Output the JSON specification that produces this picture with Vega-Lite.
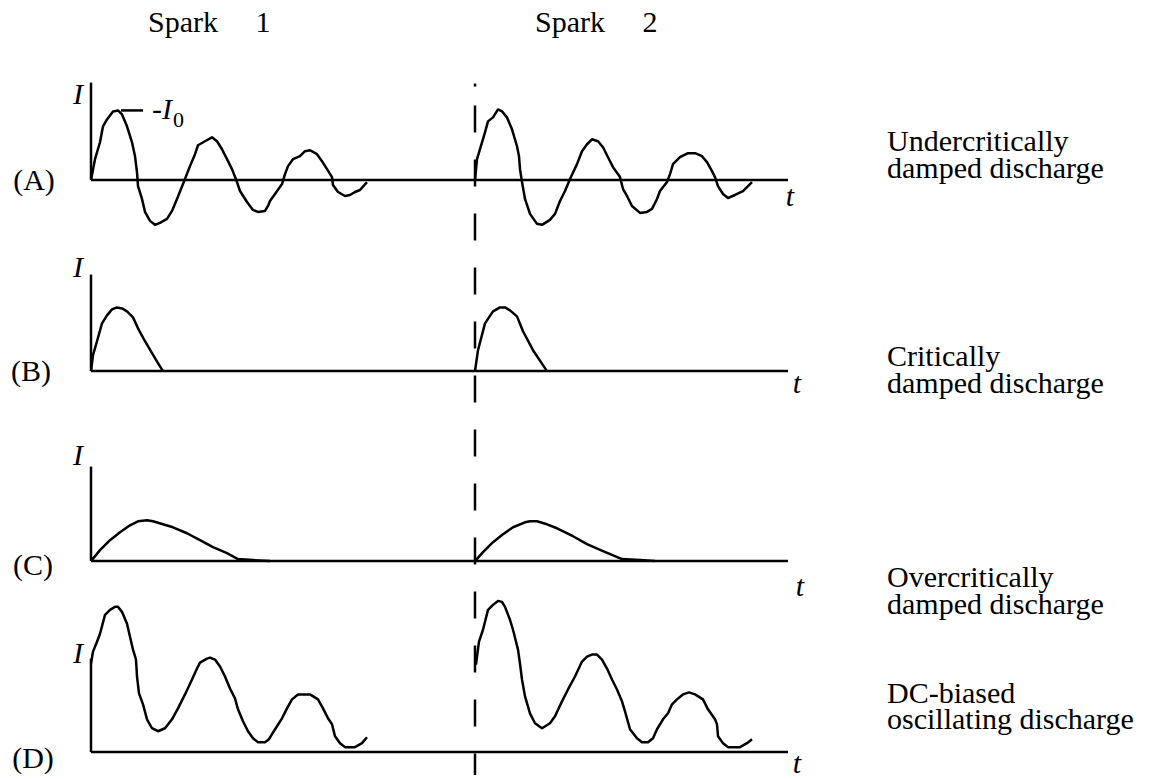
{
  "$schema": "https://vega.github.io/schema/vega-lite/v6.json",
  "width": 1161,
  "height": 779,
  "autosize": {"type": "fit", "contains": "padding"},
  "padding": 0,
  "background": "white",
  "config": {"view": {"stroke": null}},
  "datasets": {
    "rules": [
      {"x": 91, "y": 83, "x2": 91, "y2": 181},
      {"x": 91, "y": 181, "x2": 788, "y2": 181},
      {"x": 91, "y": 276, "x2": 91, "y2": 373},
      {"x": 91, "y": 373, "x2": 788, "y2": 373},
      {"x": 91, "y": 469, "x2": 91, "y2": 564},
      {"x": 91, "y": 564, "x2": 788, "y2": 564},
      {"x": 91, "y": 662, "x2": 91, "y2": 756},
      {"x": 91, "y": 756, "x2": 788, "y2": 756},
      {"x": 121, "y": 111, "x2": 143, "y2": 111},
      {"x": 475, "y": 84, "x2": 475, "y2": 87}
    ],
    "dashed": [
      {"x": 475, "y": 106, "x2": 475, "y2": 779}
    ],
    "curves": [
      {"id": "A1", "i": 0, "x": 91, "y": 181}, {"id": "A1", "i": 1, "x": 95, "y": 160}, {"id": "A1", "i": 2, "x": 100, "y": 143}, {"id": "A1", "i": 3, "x": 103, "y": 127}, {"id": "A1", "i": 4, "x": 107, "y": 120}, {"id": "A1", "i": 5, "x": 113, "y": 112}, {"id": "A1", "i": 6, "x": 118, "y": 111}, {"id": "A1", "i": 7, "x": 122, "y": 115}, {"id": "A1", "i": 8, "x": 127, "y": 127}, {"id": "A1", "i": 9, "x": 132, "y": 143}, {"id": "A1", "i": 10, "x": 135, "y": 157}, {"id": "A1", "i": 11, "x": 137, "y": 173}, {"id": "A1", "i": 12, "x": 138, "y": 187}, {"id": "A1", "i": 13, "x": 142, "y": 200}, {"id": "A1", "i": 14, "x": 145, "y": 213}, {"id": "A1", "i": 15, "x": 150, "y": 222}, {"id": "A1", "i": 16, "x": 155, "y": 226}, {"id": "A1", "i": 17, "x": 160, "y": 224}, {"id": "A1", "i": 18, "x": 167, "y": 220}, {"id": "A1", "i": 19, "x": 172, "y": 212}, {"id": "A1", "i": 20, "x": 177, "y": 200}, {"id": "A1", "i": 21, "x": 183, "y": 185}, {"id": "A1", "i": 22, "x": 190, "y": 167}, {"id": "A1", "i": 23, "x": 195, "y": 155}, {"id": "A1", "i": 24, "x": 198, "y": 146}, {"id": "A1", "i": 25, "x": 205, "y": 142}, {"id": "A1", "i": 26, "x": 212, "y": 138}, {"id": "A1", "i": 27, "x": 217, "y": 142}, {"id": "A1", "i": 28, "x": 222, "y": 150}, {"id": "A1", "i": 29, "x": 227, "y": 160}, {"id": "A1", "i": 30, "x": 232, "y": 170}, {"id": "A1", "i": 31, "x": 237, "y": 183}, {"id": "A1", "i": 32, "x": 240, "y": 192}, {"id": "A1", "i": 33, "x": 247, "y": 203}, {"id": "A1", "i": 34, "x": 253, "y": 211}, {"id": "A1", "i": 35, "x": 258, "y": 213}, {"id": "A1", "i": 36, "x": 265, "y": 212}, {"id": "A1", "i": 37, "x": 268, "y": 207}, {"id": "A1", "i": 38, "x": 270, "y": 202}, {"id": "A1", "i": 39, "x": 275, "y": 195}, {"id": "A1", "i": 40, "x": 282, "y": 185}, {"id": "A1", "i": 41, "x": 285, "y": 175}, {"id": "A1", "i": 42, "x": 288, "y": 167}, {"id": "A1", "i": 43, "x": 293, "y": 160}, {"id": "A1", "i": 44, "x": 300, "y": 157}, {"id": "A1", "i": 45, "x": 305, "y": 152}, {"id": "A1", "i": 46, "x": 310, "y": 151}, {"id": "A1", "i": 47, "x": 317, "y": 155}, {"id": "A1", "i": 48, "x": 322, "y": 162}, {"id": "A1", "i": 49, "x": 327, "y": 170}, {"id": "A1", "i": 50, "x": 332, "y": 178}, {"id": "A1", "i": 51, "x": 333, "y": 186}, {"id": "A1", "i": 52, "x": 338, "y": 193}, {"id": "A1", "i": 53, "x": 345, "y": 197}, {"id": "A1", "i": 54, "x": 350, "y": 196}, {"id": "A1", "i": 55, "x": 355, "y": 193}, {"id": "A1", "i": 56, "x": 360, "y": 191}, {"id": "A1", "i": 57, "x": 367, "y": 183},

      {"id": "A2", "i": 0, "x": 475, "y": 181}, {"id": "A2", "i": 1, "x": 477, "y": 160}, {"id": "A2", "i": 2, "x": 480, "y": 150}, {"id": "A2", "i": 3, "x": 485, "y": 133}, {"id": "A2", "i": 4, "x": 488, "y": 122}, {"id": "A2", "i": 5, "x": 493, "y": 118}, {"id": "A2", "i": 6, "x": 498, "y": 110}, {"id": "A2", "i": 7, "x": 502, "y": 112}, {"id": "A2", "i": 8, "x": 507, "y": 118}, {"id": "A2", "i": 9, "x": 512, "y": 130}, {"id": "A2", "i": 10, "x": 517, "y": 147}, {"id": "A2", "i": 11, "x": 519, "y": 157}, {"id": "A2", "i": 12, "x": 520, "y": 170}, {"id": "A2", "i": 13, "x": 522, "y": 183}, {"id": "A2", "i": 14, "x": 525, "y": 200}, {"id": "A2", "i": 15, "x": 530, "y": 215}, {"id": "A2", "i": 16, "x": 537, "y": 225}, {"id": "A2", "i": 17, "x": 542, "y": 226}, {"id": "A2", "i": 18, "x": 550, "y": 221}, {"id": "A2", "i": 19, "x": 555, "y": 215}, {"id": "A2", "i": 20, "x": 560, "y": 202}, {"id": "A2", "i": 21, "x": 565, "y": 192}, {"id": "A2", "i": 22, "x": 570, "y": 180}, {"id": "A2", "i": 23, "x": 577, "y": 165}, {"id": "A2", "i": 24, "x": 582, "y": 152}, {"id": "A2", "i": 25, "x": 587, "y": 145}, {"id": "A2", "i": 26, "x": 592, "y": 140}, {"id": "A2", "i": 27, "x": 598, "y": 142}, {"id": "A2", "i": 28, "x": 603, "y": 148}, {"id": "A2", "i": 29, "x": 608, "y": 158}, {"id": "A2", "i": 30, "x": 613, "y": 168}, {"id": "A2", "i": 31, "x": 620, "y": 178}, {"id": "A2", "i": 32, "x": 623, "y": 190}, {"id": "A2", "i": 33, "x": 627, "y": 197}, {"id": "A2", "i": 34, "x": 632, "y": 207}, {"id": "A2", "i": 35, "x": 640, "y": 214}, {"id": "A2", "i": 36, "x": 647, "y": 213}, {"id": "A2", "i": 37, "x": 652, "y": 210}, {"id": "A2", "i": 38, "x": 657, "y": 200}, {"id": "A2", "i": 39, "x": 660, "y": 192}, {"id": "A2", "i": 40, "x": 667, "y": 183}, {"id": "A2", "i": 41, "x": 670, "y": 175}, {"id": "A2", "i": 42, "x": 673, "y": 165}, {"id": "A2", "i": 43, "x": 680, "y": 158}, {"id": "A2", "i": 44, "x": 688, "y": 154}, {"id": "A2", "i": 45, "x": 695, "y": 154}, {"id": "A2", "i": 46, "x": 702, "y": 157}, {"id": "A2", "i": 47, "x": 707, "y": 163}, {"id": "A2", "i": 48, "x": 712, "y": 172}, {"id": "A2", "i": 49, "x": 715, "y": 178}, {"id": "A2", "i": 50, "x": 718, "y": 187}, {"id": "A2", "i": 51, "x": 723, "y": 195}, {"id": "A2", "i": 52, "x": 728, "y": 199}, {"id": "A2", "i": 53, "x": 735, "y": 196}, {"id": "A2", "i": 54, "x": 743, "y": 192}, {"id": "A2", "i": 55, "x": 752, "y": 183},

      {"id": "B1", "i": 0, "x": 91, "y": 373}, {"id": "B1", "i": 1, "x": 93, "y": 357}, {"id": "B1", "i": 2, "x": 97, "y": 343}, {"id": "B1", "i": 3, "x": 102, "y": 325}, {"id": "B1", "i": 4, "x": 107, "y": 317}, {"id": "B1", "i": 5, "x": 112, "y": 311}, {"id": "B1", "i": 6, "x": 117, "y": 309}, {"id": "B1", "i": 7, "x": 122, "y": 310}, {"id": "B1", "i": 8, "x": 127, "y": 313}, {"id": "B1", "i": 9, "x": 133, "y": 319}, {"id": "B1", "i": 10, "x": 138, "y": 330}, {"id": "B1", "i": 11, "x": 145, "y": 343}, {"id": "B1", "i": 12, "x": 152, "y": 355}, {"id": "B1", "i": 13, "x": 158, "y": 365}, {"id": "B1", "i": 14, "x": 163, "y": 373},

      {"id": "B2", "i": 0, "x": 475, "y": 373}, {"id": "B2", "i": 1, "x": 478, "y": 352}, {"id": "B2", "i": 2, "x": 485, "y": 325}, {"id": "B2", "i": 3, "x": 493, "y": 313}, {"id": "B2", "i": 4, "x": 500, "y": 309}, {"id": "B2", "i": 5, "x": 505, "y": 309}, {"id": "B2", "i": 6, "x": 510, "y": 312}, {"id": "B2", "i": 7, "x": 517, "y": 318}, {"id": "B2", "i": 8, "x": 523, "y": 333}, {"id": "B2", "i": 9, "x": 533, "y": 352}, {"id": "B2", "i": 10, "x": 547, "y": 373},

      {"id": "C1", "i": 0, "x": 91, "y": 564}, {"id": "C1", "i": 1, "x": 100, "y": 553}, {"id": "C1", "i": 2, "x": 110, "y": 543}, {"id": "C1", "i": 3, "x": 120, "y": 535}, {"id": "C1", "i": 4, "x": 130, "y": 528}, {"id": "C1", "i": 5, "x": 138, "y": 524}, {"id": "C1", "i": 6, "x": 147, "y": 523}, {"id": "C1", "i": 7, "x": 153, "y": 524}, {"id": "C1", "i": 8, "x": 163, "y": 527}, {"id": "C1", "i": 9, "x": 173, "y": 530}, {"id": "C1", "i": 10, "x": 187, "y": 536}, {"id": "C1", "i": 11, "x": 200, "y": 543}, {"id": "C1", "i": 12, "x": 213, "y": 550}, {"id": "C1", "i": 13, "x": 227, "y": 556}, {"id": "C1", "i": 14, "x": 238, "y": 562}, {"id": "C1", "i": 15, "x": 253, "y": 563}, {"id": "C1", "i": 16, "x": 270, "y": 564},

      {"id": "C2", "i": 0, "x": 475, "y": 564}, {"id": "C2", "i": 1, "x": 483, "y": 555}, {"id": "C2", "i": 2, "x": 493, "y": 545}, {"id": "C2", "i": 3, "x": 503, "y": 537}, {"id": "C2", "i": 4, "x": 513, "y": 530}, {"id": "C2", "i": 5, "x": 525, "y": 525}, {"id": "C2", "i": 6, "x": 530, "y": 524}, {"id": "C2", "i": 7, "x": 537, "y": 524}, {"id": "C2", "i": 8, "x": 547, "y": 527}, {"id": "C2", "i": 9, "x": 557, "y": 531}, {"id": "C2", "i": 10, "x": 573, "y": 539}, {"id": "C2", "i": 11, "x": 587, "y": 547}, {"id": "C2", "i": 12, "x": 603, "y": 554}, {"id": "C2", "i": 13, "x": 622, "y": 562}, {"id": "C2", "i": 14, "x": 640, "y": 563}, {"id": "C2", "i": 15, "x": 655, "y": 564},

      {"id": "D1", "i": 0, "x": 91, "y": 667}, {"id": "D1", "i": 1, "x": 93, "y": 655}, {"id": "D1", "i": 2, "x": 97, "y": 645}, {"id": "D1", "i": 3, "x": 100, "y": 637}, {"id": "D1", "i": 4, "x": 105, "y": 618}, {"id": "D1", "i": 5, "x": 110, "y": 613}, {"id": "D1", "i": 6, "x": 115, "y": 610}, {"id": "D1", "i": 7, "x": 118, "y": 610}, {"id": "D1", "i": 8, "x": 122, "y": 615}, {"id": "D1", "i": 9, "x": 127, "y": 627}, {"id": "D1", "i": 10, "x": 130, "y": 640}, {"id": "D1", "i": 11, "x": 133, "y": 653}, {"id": "D1", "i": 12, "x": 136, "y": 663}, {"id": "D1", "i": 13, "x": 137, "y": 680}, {"id": "D1", "i": 14, "x": 139, "y": 697}, {"id": "D1", "i": 15, "x": 143, "y": 708}, {"id": "D1", "i": 16, "x": 147, "y": 723}, {"id": "D1", "i": 17, "x": 152, "y": 732}, {"id": "D1", "i": 18, "x": 158, "y": 735}, {"id": "D1", "i": 19, "x": 165, "y": 732}, {"id": "D1", "i": 20, "x": 172, "y": 723}, {"id": "D1", "i": 21, "x": 178, "y": 712}, {"id": "D1", "i": 22, "x": 185, "y": 698}, {"id": "D1", "i": 23, "x": 192, "y": 683}, {"id": "D1", "i": 24, "x": 197, "y": 672}, {"id": "D1", "i": 25, "x": 200, "y": 666}, {"id": "D1", "i": 26, "x": 207, "y": 662}, {"id": "D1", "i": 27, "x": 210, "y": 661}, {"id": "D1", "i": 28, "x": 215, "y": 663}, {"id": "D1", "i": 29, "x": 220, "y": 670}, {"id": "D1", "i": 30, "x": 225, "y": 680}, {"id": "D1", "i": 31, "x": 230, "y": 692}, {"id": "D1", "i": 32, "x": 235, "y": 702}, {"id": "D1", "i": 33, "x": 238, "y": 713}, {"id": "D1", "i": 34, "x": 243, "y": 725}, {"id": "D1", "i": 35, "x": 248, "y": 735}, {"id": "D1", "i": 36, "x": 253, "y": 742}, {"id": "D1", "i": 37, "x": 258, "y": 746}, {"id": "D1", "i": 38, "x": 265, "y": 746}, {"id": "D1", "i": 39, "x": 269, "y": 743}, {"id": "D1", "i": 40, "x": 272, "y": 738}, {"id": "D1", "i": 41, "x": 277, "y": 730}, {"id": "D1", "i": 42, "x": 282, "y": 722}, {"id": "D1", "i": 43, "x": 287, "y": 712}, {"id": "D1", "i": 44, "x": 292, "y": 703}, {"id": "D1", "i": 45, "x": 298, "y": 698}, {"id": "D1", "i": 46, "x": 310, "y": 698}, {"id": "D1", "i": 47, "x": 318, "y": 703}, {"id": "D1", "i": 48, "x": 323, "y": 712}, {"id": "D1", "i": 49, "x": 328, "y": 722}, {"id": "D1", "i": 50, "x": 332, "y": 728}, {"id": "D1", "i": 51, "x": 335, "y": 740}, {"id": "D1", "i": 52, "x": 340, "y": 747}, {"id": "D1", "i": 53, "x": 345, "y": 751}, {"id": "D1", "i": 54, "x": 355, "y": 751}, {"id": "D1", "i": 55, "x": 362, "y": 747}, {"id": "D1", "i": 56, "x": 367, "y": 741},

      {"id": "D2", "i": 0, "x": 476, "y": 668}, {"id": "D2", "i": 1, "x": 477, "y": 660}, {"id": "D2", "i": 2, "x": 479, "y": 645}, {"id": "D2", "i": 3, "x": 483, "y": 633}, {"id": "D2", "i": 4, "x": 488, "y": 613}, {"id": "D2", "i": 5, "x": 493, "y": 608}, {"id": "D2", "i": 6, "x": 498, "y": 604}, {"id": "D2", "i": 7, "x": 502, "y": 605}, {"id": "D2", "i": 8, "x": 505, "y": 610}, {"id": "D2", "i": 9, "x": 510, "y": 623}, {"id": "D2", "i": 10, "x": 513, "y": 633}, {"id": "D2", "i": 11, "x": 518, "y": 653}, {"id": "D2", "i": 12, "x": 520, "y": 667}, {"id": "D2", "i": 13, "x": 522, "y": 683}, {"id": "D2", "i": 14, "x": 525, "y": 700}, {"id": "D2", "i": 15, "x": 530, "y": 717}, {"id": "D2", "i": 16, "x": 535, "y": 727}, {"id": "D2", "i": 17, "x": 542, "y": 732}, {"id": "D2", "i": 18, "x": 550, "y": 727}, {"id": "D2", "i": 19, "x": 555, "y": 720}, {"id": "D2", "i": 20, "x": 562, "y": 705}, {"id": "D2", "i": 21, "x": 568, "y": 693}, {"id": "D2", "i": 22, "x": 575, "y": 680}, {"id": "D2", "i": 23, "x": 582, "y": 665}, {"id": "D2", "i": 24, "x": 587, "y": 660}, {"id": "D2", "i": 25, "x": 592, "y": 658}, {"id": "D2", "i": 26, "x": 597, "y": 658}, {"id": "D2", "i": 27, "x": 602, "y": 663}, {"id": "D2", "i": 28, "x": 607, "y": 672}, {"id": "D2", "i": 29, "x": 612, "y": 683}, {"id": "D2", "i": 30, "x": 617, "y": 693}, {"id": "D2", "i": 31, "x": 622, "y": 705}, {"id": "D2", "i": 32, "x": 625, "y": 715}, {"id": "D2", "i": 33, "x": 630, "y": 733}, {"id": "D2", "i": 34, "x": 637, "y": 742}, {"id": "D2", "i": 35, "x": 642, "y": 746}, {"id": "D2", "i": 36, "x": 648, "y": 746}, {"id": "D2", "i": 37, "x": 653, "y": 742}, {"id": "D2", "i": 38, "x": 657, "y": 733}, {"id": "D2", "i": 39, "x": 663, "y": 723}, {"id": "D2", "i": 40, "x": 668, "y": 717}, {"id": "D2", "i": 41, "x": 672, "y": 708}, {"id": "D2", "i": 42, "x": 677, "y": 703}, {"id": "D2", "i": 43, "x": 683, "y": 698}, {"id": "D2", "i": 44, "x": 689, "y": 696}, {"id": "D2", "i": 45, "x": 695, "y": 698}, {"id": "D2", "i": 46, "x": 703, "y": 703}, {"id": "D2", "i": 47, "x": 708, "y": 713}, {"id": "D2", "i": 48, "x": 715, "y": 723}, {"id": "D2", "i": 49, "x": 717, "y": 728}, {"id": "D2", "i": 50, "x": 718, "y": 740}, {"id": "D2", "i": 51, "x": 723, "y": 747}, {"id": "D2", "i": 52, "x": 728, "y": 751}, {"id": "D2", "i": 53, "x": 740, "y": 751}, {"id": "D2", "i": 54, "x": 747, "y": 747}, {"id": "D2", "i": 55, "x": 752, "y": 743}
    ],
    "labels": [
      {"x": 148, "y": 32, "text": "Spark\u00a0\u00a0\u00a0\u00a0\u00a01"},
      {"x": 535, "y": 32, "text": "Spark\u00a0\u00a0\u00a0\u00a0\u00a02"},
      {"x": 887, "y": 152, "text": "Undercritically"},
      {"x": 887, "y": 179, "text": "damped discharge"},
      {"x": 887, "y": 368, "text": "Critically"},
      {"x": 887, "y": 395, "text": "damped discharge"},
      {"x": 887, "y": 590, "text": "Overcritically"},
      {"x": 887, "y": 617, "text": "damped discharge"},
      {"x": 887, "y": 707, "text": "DC-biased"},
      {"x": 887, "y": 733, "text": "oscillating discharge"}
    ],
    "panels": [
      {"x": 34, "y": 182, "text": "(A)"},
      {"x": 31, "y": 374, "text": "(B)"},
      {"x": 33, "y": 569, "text": "(C)"},
      {"x": 33, "y": 763, "text": "(D)"}
    ],
    "italics": [
      {"x": 78, "y": 95, "text": "I"},
      {"x": 78, "y": 269, "text": "I"},
      {"x": 78, "y": 458, "text": "I"},
      {"x": 78, "y": 657, "text": "I"},
      {"x": 790, "y": 198, "text": "t"},
      {"x": 797, "y": 386, "text": "t"},
      {"x": 800, "y": 590, "text": "t"},
      {"x": 797, "y": 768, "text": "t"}
    ],
    "izero": [
      {"x": 152, "y": 120, "text": "-I"}
    ],
    "zero": [
      {"x": 173, "y": 128, "text": "0"}
    ]
  },
  "encoding": {
    "x": {"field": "x", "type": "quantitative", "scale": {"domain": [0, 1161], "nice": false, "zero": false}, "axis": null},
    "y": {"field": "y", "type": "quantitative", "scale": {"domain": [0, 779], "nice": false, "zero": false, "reverse": true}, "axis": null}
  },
  "layer": [
    {
      "data": {"name": "rules"},
      "mark": {"type": "rule", "stroke": "black", "strokeWidth": 2.5},
      "encoding": {"x2": {"field": "x2"}, "y2": {"field": "y2"}}
    },
    {
      "data": {"name": "dashed"},
      "mark": {"type": "rule", "stroke": "black", "strokeWidth": 2.5, "strokeDash": [27, 27]},
      "encoding": {"x2": {"field": "x2"}, "y2": {"field": "y2"}}
    },
    {
      "data": {"name": "curves"},
      "mark": {"type": "line", "stroke": "black", "strokeWidth": 2.5, "strokeJoin": "round"},
      "encoding": {"detail": {"field": "id"}, "order": {"field": "i", "type": "quantitative"}}
    },
    {
      "data": {"name": "labels"},
      "mark": {"type": "text", "font": "Liberation Serif, Times New Roman, serif", "fontSize": 30, "align": "left", "baseline": "alphabetic", "color": "black"},
      "encoding": {"text": {"field": "text"}}
    },
    {
      "data": {"name": "panels"},
      "mark": {"type": "text", "font": "Liberation Serif, Times New Roman, serif", "fontSize": 30, "align": "center", "baseline": "middle", "color": "black"},
      "encoding": {"text": {"field": "text"}}
    },
    {
      "data": {"name": "italics"},
      "mark": {"type": "text", "font": "Liberation Serif, Times New Roman, serif", "fontSize": 30, "fontStyle": "italic", "align": "center", "baseline": "middle", "color": "black"},
      "encoding": {"text": {"field": "text"}}
    },
    {
      "data": {"name": "izero"},
      "mark": {"type": "text", "font": "Liberation Serif, Times New Roman, serif", "fontSize": 30, "fontStyle": "italic", "align": "left", "baseline": "alphabetic", "color": "black"},
      "encoding": {"text": {"field": "text"}}
    },
    {
      "data": {"name": "zero"},
      "mark": {"type": "text", "font": "Liberation Serif, Times New Roman, serif", "fontSize": 22, "align": "left", "baseline": "alphabetic", "color": "black"},
      "encoding": {"text": {"field": "text"}}
    }
  ]
}
